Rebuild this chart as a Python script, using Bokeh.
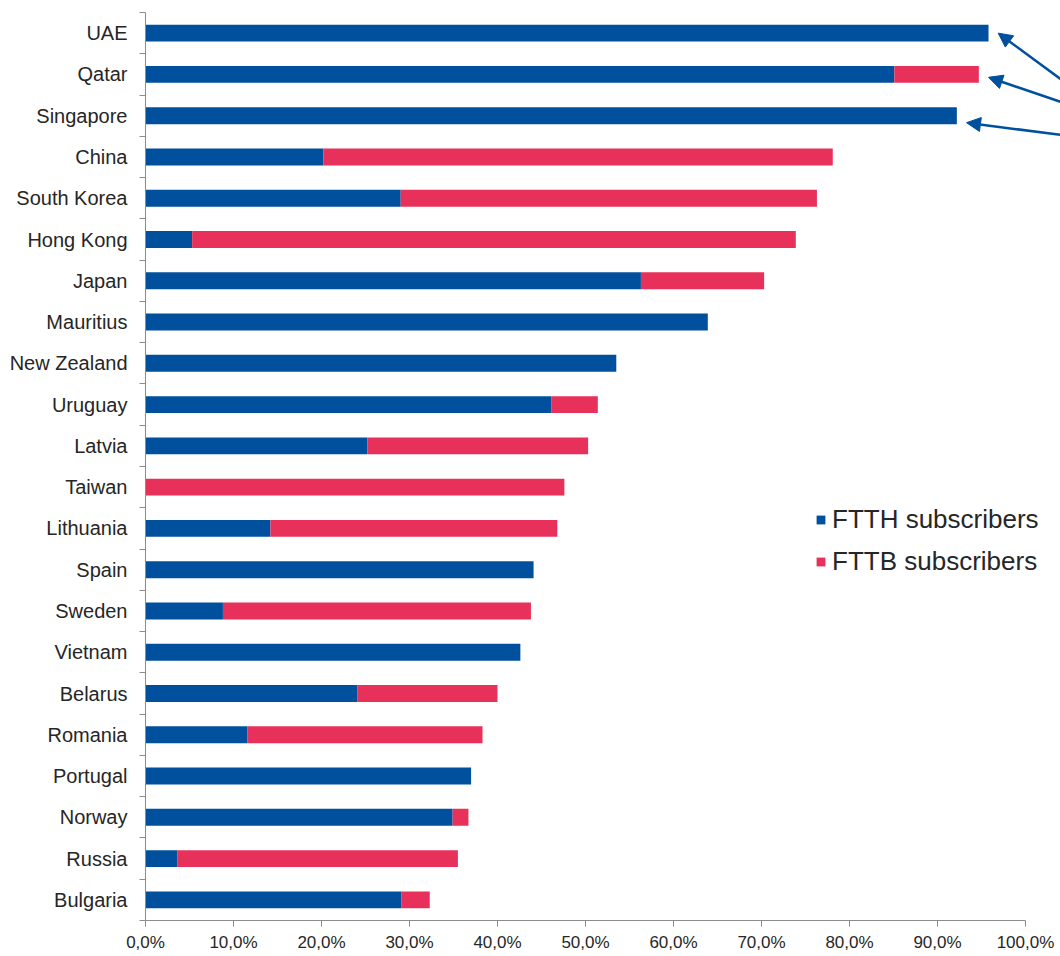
from bokeh.plotting import figure
from bokeh.models import (Range1d, LinearAxis, FixedTicker, Arrow, NormalHead,
                          Legend, ColumnDataSource)
from bokeh.embed import file_html
from bokeh.resources import INLINE

countries = ["UAE", "Qatar", "Singapore", "China", "South Korea", "Hong Kong",
             "Japan", "Mauritius", "New Zealand", "Uruguay", "Latvia", "Taiwan",
             "Lithuania", "Spain", "Sweden", "Vietnam", "Belarus", "Romania",
             "Portugal", "Norway", "Russia", "Bulgaria"]
ftth = [95.8, 85.1, 92.2, 20.2, 29.0, 5.3, 56.3, 63.9, 53.5, 46.1, 25.2, 0.0,
        14.2, 44.1, 8.8, 42.6, 24.1, 11.6, 37.0, 34.9, 3.6, 29.1]
fttb = [0.0, 9.6, 0.0, 57.9, 47.3, 68.6, 14.0, 0.0, 0.0, 5.3, 25.1, 47.6,
        32.6, 0.0, 35.0, 0.0, 15.9, 26.7, 0.0, 1.8, 31.9, 3.2]
series = ["FTTH subscribers", "FTTB subscribers"]
x_ticks = [0, 10, 20, 30, 40, 50, 60, 70, 80, 90, 100]
arrow_targets = ["UAE", "Qatar", "Singapore"]

BLUE = "#00509e"
PINK = "#e8315a"
AXIS = "#8c8c8c"
TEXT = "#262626"
FONT = "Liberation Sans"

n = len(countries)
ypos = [n - i - 0.5 for i in range(n)]  # UAE at top
X_END = 103.98

# frame spans past 100% so the pointer arrows can run off to the right edge
p = figure(width=1060, height=954, output_backend="svg", toolbar_location=None,
           x_range=Range1d(0, X_END), y_range=Range1d(0, n),
           min_border_left=145, min_border_right=0, min_border_top=12,
           min_border_bottom=28)
p.outline_line_color = None
p.grid.visible = False
p.background_fill_color = "white"
p.border_fill_color = "white"

src = ColumnDataSource(dict(y=ypos, country=countries, ftth=ftth, fttb=fttb))
rs = p.hbar_stack(["ftth", "fttb"], y="y", height=0.41, color=[BLUE, PINK],
                  line_color=None, source=src)

# boundary tick axis (default left axis)
yax = p.yaxis[0]
yax.ticker = FixedTicker(ticks=list(range(0, n + 1)))
yax.major_label_overrides = {i: "" for i in range(0, n + 1)}
yax.major_label_standoff = 0
yax.major_tick_out = 6
yax.major_tick_in = 0
yax.minor_tick_line_color = None
yax.axis_line_color = AXIS
yax.major_tick_line_color = AXIS
yax.major_label_text_font_size = "1px"

# category label axis
cax = LinearAxis(ticker=FixedTicker(ticks=ypos),
                 major_label_overrides={y: c for y, c in zip(ypos, countries)})
cax.axis_line_color = None
cax.major_tick_line_color = None
cax.minor_tick_line_color = None
cax.major_label_standoff = 6
cax.major_label_text_font = FONT
cax.major_label_text_font_size = "20px"
cax.major_label_text_color = TEXT
p.add_layout(cax, "left")

xax = p.xaxis[0]
xax.ticker = FixedTicker(ticks=x_ticks)
xax.bounds = (0, 100)
xax.major_label_overrides = {t: (f"{t:.1f}%").replace(".", ",") for t in x_ticks}
xax.axis_line_color = AXIS
xax.major_tick_line_color = AXIS
xax.major_tick_out = 6
xax.major_tick_in = 0
xax.minor_tick_line_color = None
xax.major_label_standoff = 6
xax.major_label_text_font = FONT
xax.major_label_text_font_size = "17px"
xax.major_label_text_color = TEXT

legend = Legend(items=[(series[0], [rs[0]]), (series[1], [rs[1]])],
                location=(670, 343), glyph_width=11, glyph_height=11,
                label_text_font=FONT, label_text_font_size="26px",
                label_text_color=TEXT, label_standoff=6, spacing=11,
                padding=0, margin=0, border_line_color=None,
                background_fill_alpha=0)
p.add_layout(legend, "center")

# arrows pointing to the three leading bars (tails leave at the right edge)
tail_dy = [-1.19, -0.70, -0.48]
head_dy = [0.0, -0.07, -0.17]
for name, tdy, hdy in zip(arrow_targets, tail_dy, head_dy):
    i = countries.index(name)
    yc = ypos[i]
    total = ftth[i] + fttb[i]
    p.add_layout(Arrow(end=NormalHead(size=14, fill_color=BLUE, line_color=BLUE),
                       x_start=X_END + 0.5, y_start=yc + tdy,
                       x_end=total + 1.1, y_end=yc + hdy,
                       line_color=BLUE, line_width=2.5))

open("out.html", "w").write(file_html(p, INLINE))
